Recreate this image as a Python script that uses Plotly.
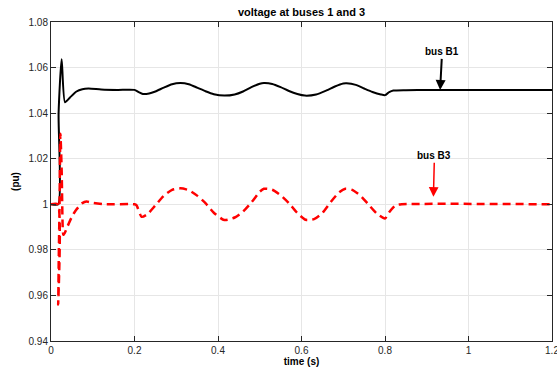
import plotly.graph_objects as go

# ---- data ----
t_b1 = [0, 0.0175, 0.0182, 0.0255, 0.0335, 0.045, 0.061, 0.075, 0.09, 0.12, 0.16, 0.2,
        0.21, 0.22, 0.235, 0.25, 0.27, 0.29, 0.31, 0.33, 0.35, 0.37, 0.39, 0.415,
        0.44, 0.46, 0.48, 0.50, 0.51, 0.53, 0.55, 0.57, 0.59, 0.608, 0.635, 0.66,
        0.68, 0.70, 0.708, 0.73, 0.75, 0.77, 0.79, 0.80, 0.81, 0.82, 0.85, 0.9, 1.2]
v_b1 = [1.0, 1.0, 1.040, 1.0637, 1.0448, 1.0468, 1.0495, 1.0505, 1.0508, 1.0504, 1.0502, 1.0502,
        1.0492, 1.0484, 1.0486, 1.0495, 1.0512, 1.0527, 1.0532, 1.0527, 1.0512, 1.0496, 1.0483, 1.0477,
        1.0482, 1.0495, 1.0514, 1.0529, 1.0532, 1.0528, 1.0514, 1.0497, 1.0484, 1.0477, 1.0482, 1.0500,
        1.0517, 1.0530, 1.0531, 1.0524, 1.0508, 1.0493, 1.0482, 1.0479, 1.0492, 1.0499, 1.0501, 1.0502, 1.0502]

t_b3 = [0, 0.0165, 0.0172, 0.0185, 0.0205, 0.0225, 0.0255, 0.028, 0.0295, 0.033, 0.04, 0.05,
        0.06, 0.075, 0.085, 0.1, 0.13, 0.2, 0.205, 0.217, 0.23, 0.25, 0.27, 0.29, 0.31,
        0.33, 0.35, 0.37, 0.39, 0.415, 0.44, 0.46, 0.48, 0.50, 0.51, 0.53, 0.55, 0.57,
        0.59, 0.61, 0.63, 0.65, 0.67, 0.69, 0.705, 0.72, 0.74, 0.76, 0.78, 0.80, 0.81,
        0.825, 0.84, 1.2]
v_b3 = [1.0, 1.0, 0.956, 0.975, 1.0, 1.031, 1.015, 0.99, 0.9866, 0.9875, 0.9905, 0.9945,
        0.9975, 1.0005, 1.0012, 1.0006, 1.0, 1.0, 0.9995, 0.9945, 0.9955, 0.9995, 1.0037, 1.0063, 1.0070,
        1.0062, 1.0038, 1.0005, 0.9963, 0.9931, 0.9942, 0.9968, 1.0008, 1.0055, 1.0068, 1.0064, 1.0040, 1.0005,
        0.9962, 0.9932, 0.9935, 0.9962, 1.0010, 1.0052, 1.0068, 1.0064, 1.0040, 1.0000, 0.9960, 0.9938, 0.9965,
        0.9995, 1.0, 1.0]

x_ticks = [0, 0.2, 0.4, 0.6, 0.8, 1.0, 1.2]
x_ticktext = ["0", "0.2", "0.4", "0.6", "0.8", "1", "1.2"]
y_ticks = [0.94, 0.96, 0.98, 1.0, 1.02, 1.04, 1.06, 1.08]
y_ticktext = ["0.94", "0.96", "0.98", "1", "1.02", "1.04", "1.06", "1.08"]

title_text = "voltage at buses 1 and 3"
x_title = "time (s)"
y_title = "(pu)"
label_b1 = "bus B1"
label_b3 = "bus B3"
arrow_b1 = (0.932, 1.0502)
arrow_b3 = (0.916, 1.0033)

axis_col = "#262626"
grid_col = "#e6e6e6"
font = "Liberation Sans, Arial, sans-serif"

fig = go.Figure()
fig.add_trace(go.Scatter(x=t_b1, y=v_b1, mode="lines",
                         line=dict(color="black", width=2, shape="spline", smoothing=0.6), name="B1"))
fig.add_trace(go.Scatter(x=t_b3, y=v_b3, mode="lines",
                         line=dict(color="#ff0000", width=2.5, dash="8px,5px",
                                   shape="spline", smoothing=0.6), name="B3"))

axis_common = dict(showline=True, linecolor=axis_col, linewidth=1, mirror="ticks",
                   ticks="inside", ticklen=5, tickcolor=axis_col, showgrid=True,
                   gridcolor=grid_col, gridwidth=1, zeroline=False, automargin=False,
                   tickfont=dict(family=font, size=10, color=axis_col))

fig.update_xaxes(range=[0, 1.2], tickvals=x_ticks, ticktext=x_ticktext,
                 ticklabeloverflow="allow",
                 title=dict(text="<b>" + x_title + "</b>", standoff=6,
                            font=dict(family=font, size=10, color="black")),
                 **axis_common)
fig.update_yaxes(range=[0.94, 1.08], tickvals=y_ticks, ticktext=y_ticktext,
                 title=dict(text="<b>" + y_title + "</b>", standoff=7,
                            font=dict(family=font, size=10, color="black")),
                 **axis_common)

fig.add_annotation(x=arrow_b1[0], y=arrow_b1[1], text="<b>" + label_b1 + "</b>",
                   showarrow=True, ax=2, ay=-38, arrowhead=2, arrowsize=1, arrowwidth=2,
                   arrowcolor="black", font=dict(family=font, size=10, color="black"))
fig.add_annotation(x=arrow_b3[0], y=arrow_b3[1], text="<b>" + label_b3 + "</b>",
                   showarrow=True, ax=1, ay=-41, arrowhead=2, arrowsize=1.3, arrowwidth=1.5,
                   arrowcolor="#ff0000", font=dict(family=font, size=10, color="black"))

fig.update_layout(
    width=557, height=367,
    margin=dict(l=51, r=5, t=22, b=26),
    paper_bgcolor="white", plot_bgcolor="white",
    showlegend=False,
    title=dict(text="<b>" + title_text + "</b>", x=0.5413, xanchor="center", y=0.967, yanchor="middle",
               font=dict(family=font, size=11, color="black")),
)

fig.write_html("out.html")
